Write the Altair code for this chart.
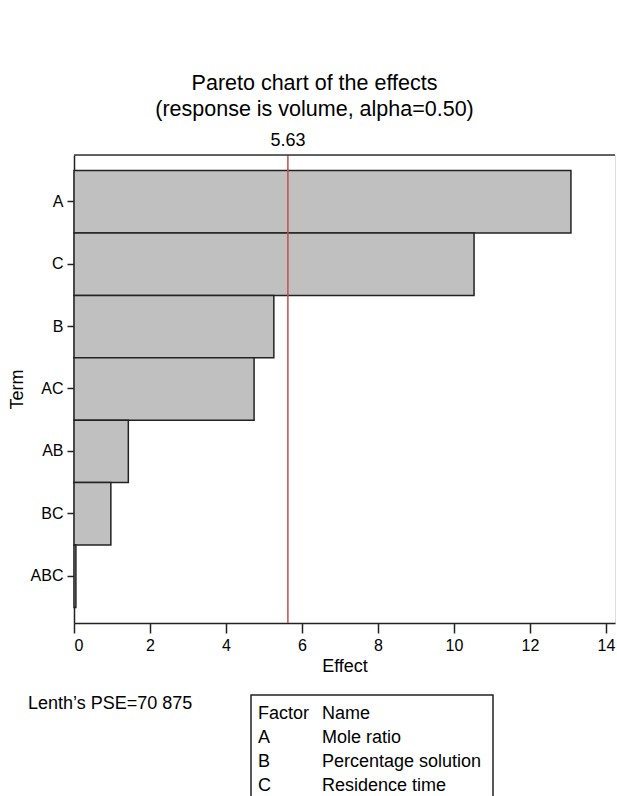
import altair as alt
import pandas as pd

terms = ["A", "C", "B", "AC", "AB", "BC", "ABC"]
effects = [13.08, 10.53, 5.26, 4.74, 1.43, 0.97, 0.05]
critical = 5.63
x_ticks = [0, 2, 4, 6, 8, 10, 12, 14]
pse_text = "Lenth\u2019s PSE=70 875"
factor_codes = ["Factor", "A", "B", "C"]
factor_names = ["Name", "Mole ratio", "Percentage solution", "Residence time"]

FONT = "Liberation Sans"
W, H = 541, 468

df = pd.DataFrame({"Term": terms, "Effect": effects})

xscale = alt.Scale(domain=[0, 14.24], nice=False, zero=True)
yscale = alt.Scale(domain=terms, paddingInner=0, paddingOuter=0.25)

bars = alt.Chart(df).mark_bar(
    color="#c0c0c0", stroke="#222222", strokeWidth=1.5
).encode(
    x=alt.X("Effect:Q", scale=xscale,
            axis=alt.Axis(values=x_ticks, title="Effect", grid=False,
                          tickSize=10, tickColor="#222", domainColor="#222",
                          domainWidth=1.5, tickWidth=1.5,
                          labelFontSize=16, labelFont=FONT, labelColor="black",
                          labelPadding=4, titleFontSize=18, titleFont=FONT,
                          titleFontWeight="normal", titleColor="black",
                          titlePadding=4)),
    y=alt.Y("Term:N", scale=yscale, sort=terms,
            axis=alt.Axis(title="Term", tickSize=7, tickColor="#222",
                          domainColor="#222", domainWidth=1.5, tickWidth=1.5,
                          labelFontSize=16, labelFont=FONT, labelColor="black",
                          labelPadding=4, titleFontSize=18, titleFont=FONT,
                          titleFontWeight="normal", titleColor="black",
                          titlePadding=4)),
)

top_border = alt.Chart(pd.DataFrame({"a": [1]})).mark_rule(
    color="#333", strokeWidth=1.5
).encode(x=alt.value(0), x2=alt.value(W), y=alt.value(0))

ref_df = pd.DataFrame({"v": [critical], "lab": [f"{critical:.2f}"]})
rule = alt.Chart(ref_df).mark_rule(color="#c0504d", strokeWidth=1.5).encode(
    x=alt.X("v:Q", scale=xscale)
)
ref_label = alt.Chart(ref_df).mark_text(
    fontSize=18, font=FONT, color="black", baseline="alphabetic"
).encode(
    x=alt.X("v:Q", scale=xscale), y=alt.value(-9), text="lab:N"
)

pse = alt.Chart(pd.DataFrame({"t": [pse_text]})).mark_text(
    fontSize=18, font=FONT, color="black", align="left", baseline="alphabetic"
).encode(x=alt.value(-46), y=alt.value(554), text="t:N")

box = alt.Chart(pd.DataFrame({"a": [1]})).mark_rect(
    fill="white", stroke="#222", strokeWidth=1.5
).encode(x=alt.value(177), x2=alt.value(419), y=alt.value(540), y2=alt.value(660))

tab = pd.DataFrame({
    "code": factor_codes, "name": factor_names, "row": list(range(len(factor_codes)))
})
tab["y"] = 564 + tab["row"] * 24
codes = alt.Chart(tab).mark_text(
    fontSize=18, font=FONT, color="black", align="left", baseline="alphabetic"
).encode(x=alt.value(184), y=alt.Y("y:Q", scale=None), text="code:N")
names = alt.Chart(tab).mark_text(
    fontSize=18, font=FONT, color="black", align="left", baseline="alphabetic"
).encode(x=alt.value(248), y=alt.Y("y:Q", scale=None), text="name:N")

chart = alt.layer(bars, rule, top_border, ref_label, pse, box, codes, names).properties(
    width=W, height=H,
    title=alt.TitleParams(
        text="Pareto chart of the effects",
        subtitle="(response is volume, alpha=0.50)",
        fontSize=21.5, subtitleFontSize=21.5, font=FONT, subtitleFont=FONT,
        fontWeight="normal", color="black", subtitleColor="black",
        anchor="middle", dx=-30, offset=12, subtitlePadding=4,
    ),
    autosize=alt.AutoSizeParams(type="none"),
    padding={"left": 74, "top": 155, "right": 2, "bottom": 173},
).configure_view(stroke="#bbbbbb", strokeWidth=1.5).configure(background="white")

chart.save("out.html", embed_options={"renderer": "svg", "actions": False})
